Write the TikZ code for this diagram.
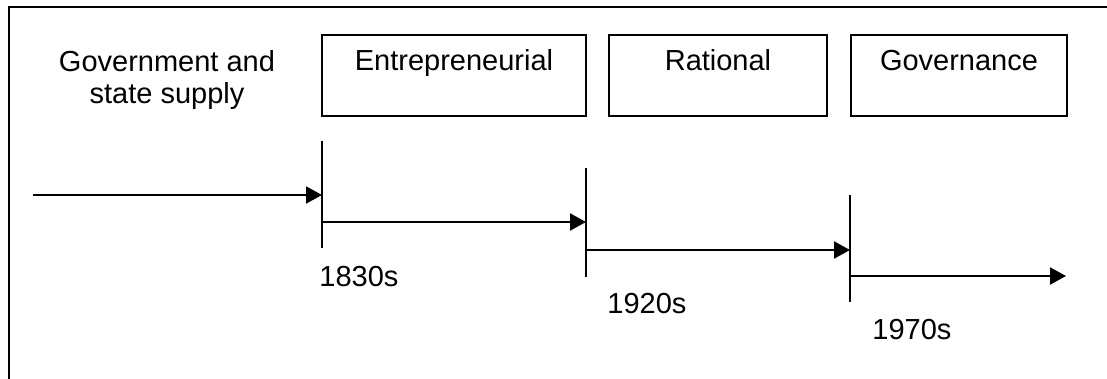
\documentclass[tikz,border=0pt]{standalone}
\usepackage{fontspec}
\setmainfont{Liberation Sans}
\usetikzlibrary{arrows.meta, positioning}

\begin{document}
\begin{tikzpicture}[x=0.5pt, y=-0.5pt,
  erabox/.style={draw, line width=1pt, anchor=north, inner xsep=0pt, inner ysep=0pt,
                 text height=18pt, text depth=22.5pt, font=\fontsize{14.5}{16}\selectfont},
  yearlbl/.style={anchor=base west, inner sep=0pt, font=\fontsize{14.5}{16}\selectfont},
  arr/.style={-{Triangle[length=8pt, width=8.5pt]}, line width=1pt},
  yearline/.style={line width=1pt}
]
\useasboundingbox (0,0) rectangle (1107,379);
\draw[line width=1pt] (9,379) -- (9,7) -- (1107,7);

\node[align=center, font=\fontsize{14.5}{16}\selectfont] (gov) at (167,80) {Government and\\ state supply};
\node[erabox, minimum width=132pt] (ent) at (454,34) {Entrepreneurial};
\node[erabox, minimum width=109pt] (rat) at (718,34) {Rational};
\node[erabox, minimum width=108pt] (gvn) at (959,34) {Governance};

\coordinate (t1a) at (322,141); \coordinate (t1b) at (322,248);
\coordinate (t2a) at (586,168); \coordinate (t2b) at (586,277);
\coordinate (t3a) at (850,195); \coordinate (t3b) at (850,302);
\draw[yearline] (t1a) -- (t1b);
\draw[yearline] (t2a) -- (t2b);
\draw[yearline] (t3a) -- (t3b);

\coordinate (start) at (33,195);
\coordinate (in1) at (322,195);  \coordinate (out1) at (322,222);
\coordinate (in2) at (586,222);  \coordinate (out2) at (586,250);
\coordinate (in3) at (850,250);  \coordinate (out3) at (850,276);
\coordinate (stop) at (1066,276);
\draw[arr] (start) -- (in1);
\draw[arr] (out1) -- (in2);
\draw[arr] (out2) -- (in3);
\draw[arr] (out3) -- (stop);

\node[yearlbl] (y1830) at (319,286) {1830s};
\node[yearlbl] (y1920) at (607,313) {1920s};
\node[yearlbl] (y1970) at (872,339) {1970s};
\end{tikzpicture}
\end{document}
